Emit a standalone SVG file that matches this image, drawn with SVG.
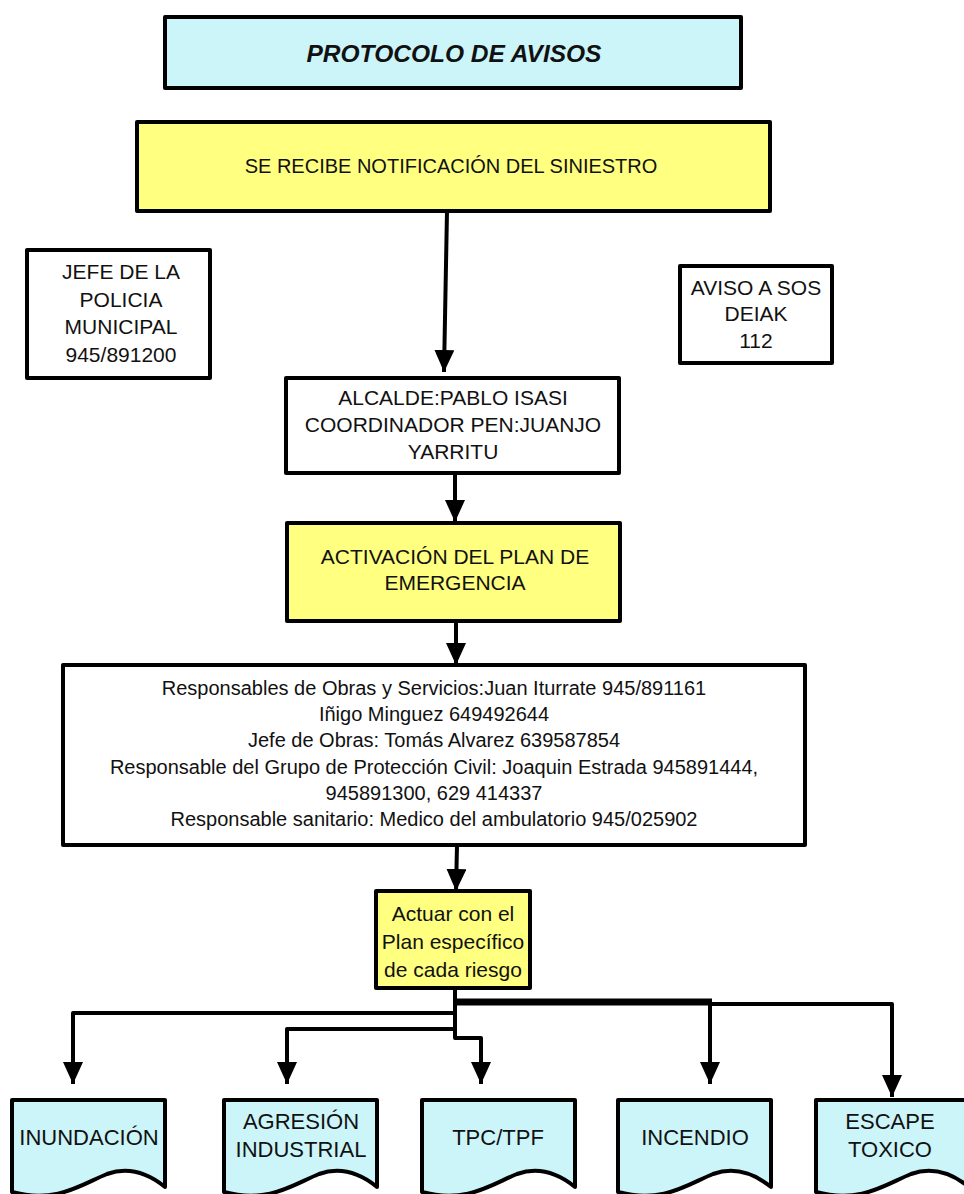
<svg xmlns="http://www.w3.org/2000/svg" width="964" height="1194" viewBox="0 0 964 1194">
<style>
.box{stroke:#000;stroke-width:4;stroke-linejoin:round}
.cy{fill:#CCF5FA}
.ye{fill:#FFFF80}
.wh{fill:#fff}
text{font-family:"Liberation Sans",Arial,sans-serif;font-size:20px;fill:#111;text-anchor:middle}
.m{font-size:21px}
.b{font-size:22px}
.t{font-weight:bold;font-style:italic;font-size:24.5px}
.c{fill:none;stroke:#000;stroke-width:4;stroke-linejoin:round}
.th{fill:none;stroke:#000;stroke-width:7}
</style>
<defs>
<marker id="ah" markerUnits="userSpaceOnUse" markerWidth="22" markerHeight="20" refX="22" refY="10" orient="auto" viewBox="0 0 22 20">
<path d="M0,0 L22,10 L0,20 Z" fill="#000"/>
</marker>
<path id="doc" d="M0,0 H153 V87 C132,70 112,68 95,74 C70,84 45,104 0,92 Z"/>
</defs>

<g id="connectors">
<path class="c" d="M447,211 L444,372" marker-end="url(#ah)"/>
<path class="c" d="M455,473 L455,522" marker-end="url(#ah)"/>
<path class="c" d="M456,621 L456,665" marker-end="url(#ah)"/>
<path class="c" d="M457,845 L456,891" marker-end="url(#ah)"/>
<path class="c" d="M455,988 L455,1038 L481,1038 L481,1084" marker-end="url(#ah)"/>
<path class="th" d="M455,1002 L712,1002"/>
<path class="c" d="M710,1002 L710,1084" marker-end="url(#ah)"/>
<path class="c" d="M710,1004 L892,1004 L892,1097" marker-end="url(#ah)"/>
<path class="c" d="M455,1013 L73,1013 L73,1084" marker-end="url(#ah)"/>
<path class="c" d="M455,1029 L287,1029 L287,1084" marker-end="url(#ah)"/>
</g>

<g id="title">
<rect class="box cy" x="165" y="17" width="576" height="71"/>
<text class="t" x="454" y="62">PROTOCOLO DE AVISOS</text>
</g>

<g id="notificacion">
<rect class="box ye" x="137" y="122" width="633" height="89"/>
<text x="451" y="173">SE RECIBE NOTIFICACIÓN DEL SINIESTRO</text>
</g>

<g id="jefe">
<rect class="box wh" x="27" y="250" width="183" height="128"/>
<text class="m" x="121" y="279">JEFE DE LA</text>
<text class="m" x="121" y="307">POLICIA</text>
<text class="m" x="121" y="334">MUNICIPAL</text>
<text class="m" x="121" y="362">945/891200</text>
</g>

<g id="aviso">
<rect class="box wh" x="680" y="266" width="152" height="97"/>
<text class="m" x="756" y="295">AVISO A SOS</text>
<text class="m" x="756" y="321">DEIAK</text>
<text class="m" x="756" y="348">112</text>
</g>

<g id="alcalde">
<rect class="box wh" x="286" y="378" width="333" height="95"/>
<text class="m" x="453" y="405">ALCALDE:PABLO ISASI</text>
<text class="m" x="453" y="432">COORDINADOR PEN:JUANJO</text>
<text class="m" x="453" y="459">YARRITU</text>
</g>

<g id="activacion">
<rect class="box ye" x="287" y="523" width="333" height="98"/>
<text class="m" x="455" y="564">ACTIVACIÓN DEL PLAN DE</text>
<text class="m" x="455" y="590">EMERGENCIA</text>
</g>

<g id="responsables">
<rect class="box wh" x="63" y="665" width="742" height="180"/>
<text x="434" y="695">Responsables de Obras y Servicios:Juan Iturrate 945/891161</text>
<text x="434" y="721">Iñigo Minguez 649492644</text>
<text x="434" y="747">Jefe de Obras: Tomás Alvarez 639587854</text>
<text x="434" y="774">Responsable del Grupo de Protección Civil: Joaquin Estrada 945891444,</text>
<text x="434" y="800">945891300, 629 414337</text>
<text x="434" y="826">Responsable sanitario: Medico del ambulatorio 945/025902</text>
</g>

<g id="actuar">
<rect class="box ye" x="376" y="891" width="154" height="97"/>
<text class="m" x="453" y="921">Actuar con el</text>
<text class="m" x="453" y="949">Plan específico</text>
<text class="m" x="453" y="977">de cada riesgo</text>
</g>

<g id="inundacion">
<use href="#doc" class="box cy" x="12" y="1100"/>
<text class="b" x="89" y="1145">INUNDACIÓN</text>
</g>

<g id="agresion">
<use href="#doc" class="box cy" x="224" y="1100"/>
<text class="b" x="301" y="1129">AGRESIÓN</text>
<text class="b" x="301" y="1157">INDUSTRIAL</text>
</g>

<g id="tpc">
<use href="#doc" class="box cy" x="422" y="1100"/>
<text class="b" x="498" y="1145">TPC/TPF</text>
</g>

<g id="incendio">
<use href="#doc" class="box cy" x="618" y="1100"/>
<text class="b" x="695" y="1145">INCENDIO</text>
</g>

<g id="escape">
<use href="#doc" class="box cy" x="816" y="1100"/>
<text class="b" x="890" y="1129">ESCAPE</text>
<text class="b" x="890" y="1157">TOXICO</text>
</g>
</svg>
